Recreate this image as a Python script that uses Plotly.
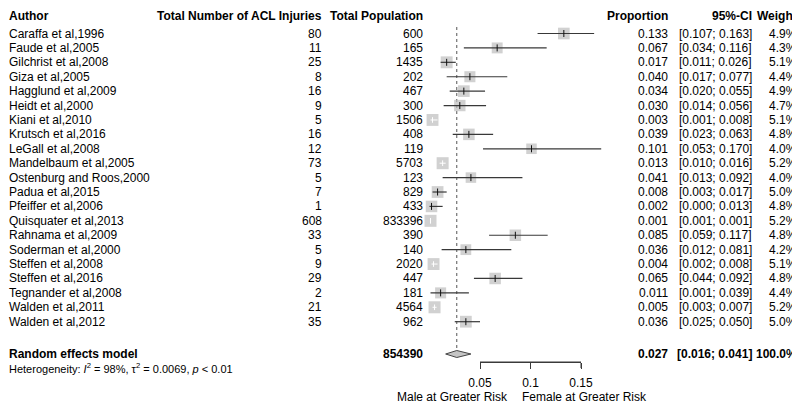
import plotly.graph_objects as go
import math

# ---------------- data ----------------
authors = ["Caraffa et al,1996", "Faude et al,2005", "Gilchrist et al,2008", "Giza et al,2005",
           "Hagglund et al,2009", "Heidt et al,2000", "Kiani et al,2010", "Krutsch et al,2016",
           "LeGall et al,2008", "Mandelbaum et al,2005", "Ostenburg and Roos,2000", "Padua et al,2015",
           "Pfeiffer et al,2006", "Quisquater et al,2013", "Rahnama et al,2009", "Soderman et al,2000",
           "Steffen et al,2008", "Steffen et al,2016", "Tegnander et al,2008", "Walden et al,2011",
           "Walden et al,2012"]
injuries = [80, 11, 25, 8, 16, 9, 5, 16, 12, 73, 5, 7, 1, 608, 33, 5, 9, 29, 2, 21, 35]
population = [600, 165, 1435, 202, 467, 300, 1506, 408, 119, 5703, 123, 829, 433, 833396,
              390, 140, 2020, 447, 181, 4564, 962]
proportion = [0.133, 0.067, 0.017, 0.040, 0.034, 0.030, 0.003, 0.039, 0.101, 0.013, 0.041,
              0.008, 0.002, 0.001, 0.085, 0.036, 0.004, 0.065, 0.011, 0.005, 0.036]
ci_low = [0.107, 0.034, 0.011, 0.017, 0.020, 0.014, 0.001, 0.023, 0.053, 0.010, 0.013,
          0.003, 0.000, 0.001, 0.059, 0.012, 0.002, 0.044, 0.001, 0.003, 0.025]
ci_high = [0.163, 0.116, 0.026, 0.077, 0.055, 0.056, 0.008, 0.063, 0.170, 0.016, 0.092,
           0.017, 0.013, 0.001, 0.117, 0.081, 0.008, 0.092, 0.039, 0.007, 0.050]
weight = [4.9, 4.3, 5.1, 4.4, 4.9, 4.7, 5.1, 4.8, 4.0, 5.2, 4.0, 5.0, 4.8, 5.2, 4.8, 4.2,
          5.1, 4.8, 4.4, 5.2, 5.0]
total_population = 854390
re_label = "Random effects model"
re_est, re_low, re_high, re_weight = 0.027, 0.016, 0.041, 100.0
heterogeneity = "Heterogeneity: <i>I</i><sup>2</sup> = 98%, τ<sup>2</sup> = 0.0069, <i>p</i> < 0.01"
tick_values = [0.05, 0.1, 0.15]
tick_labels = ["0.05", "0.1", "0.15"]
label_left = "Male at Greater Risk"
label_right = "Female at Greater Risk"
headers = ["Author", "Total Number of ACL Injuries", "Total Population", "Proportion", "95%-CI", "Weight"]

# ---------------- layout geometry (page pixels) ----------------
W, H = 800, 403
PAGE_OFF = 8                                  # default page margin around the figure
X0_PX, PX_PER_UNIT = 429.5, 1010.0            # page pixel of proportion 0, pixels per unit
def xpx(v):
    return X0_PX + v * PX_PER_UNIT
def xpaper(px):
    return (px - PAGE_OFF) / W

ROW0, ROWSTEP = 33.5, 14.41
n = len(authors)
row_y = [ROW0 + i * ROWSTEP for i in range(n)]
re_y = 354.0
het_y = 368.0
header_y = 15.5
axis_y = 362.0
tick_len = 6.0
risk_y = 397.0

COL_AUTHOR = PAGE_OFF + 0.5
COL_INJ = 322
COL_POP = 423
COL_PROP = 668
COL_CI = 752
COL_W = 797

FONT = "Liberation Sans, Arial, sans-serif"
BOX_COLOR = "#bdbdbd"
LINE_COLOR = "#383838"
AXIS_COLOR = "#3a3a3a"
MAX_BOX = 12.0

fig = go.Figure()

# reference (pooled) dotted line
fig.add_trace(go.Scatter(x=[re_est, re_est], y=[27, re_y - 4], mode="lines",
                         line=dict(color="#555555", width=1, dash="dot"),
                         hoverinfo="skip", showlegend=False))

# boxes
sizes = [MAX_BOX * math.sqrt(w / max(weight)) for w in weight]
fig.add_trace(go.Scatter(x=proportion, y=row_y, mode="markers",
                         marker=dict(symbol="square", size=sizes, color=BOX_COLOR,
                                     line=dict(width=0)),
                         hoverinfo="skip", showlegend=False))

# CI lines
out_x, out_y, in_x, in_y = [], [], [], []
tick_out_x, tick_out_y, tick_in_x, tick_in_y = [], [], [], []
for p, lo, hi, y, s in zip(proportion, ci_low, ci_high, row_y, sizes):
    inside = (xpx(hi) - xpx(lo)) < s
    if inside:
        in_x += [lo, hi, None]; in_y += [y, y, None]
        tick_in_x.append(p); tick_in_y.append(y)
    else:
        out_x += [lo, hi, None]; out_y += [y, y, None]
        tick_out_x.append(p); tick_out_y.append(y)

fig.add_trace(go.Scatter(x=out_x, y=out_y, mode="lines",
                         line=dict(color=LINE_COLOR, width=1.2),
                         hoverinfo="skip", showlegend=False))
fig.add_trace(go.Scatter(x=in_x, y=in_y, mode="lines",
                         line=dict(color="white", width=1),
                         hoverinfo="skip", showlegend=False))
fig.add_trace(go.Scatter(x=tick_out_x, y=tick_out_y, mode="markers",
                         marker=dict(symbol="line-ns-open", size=5, color="#111111",
                                     line=dict(width=1)),
                         hoverinfo="skip", showlegend=False))
fig.add_trace(go.Scatter(x=tick_in_x, y=tick_in_y, mode="markers",
                         marker=dict(symbol="line-ns-open", size=4, color="white",
                                     line=dict(width=1)),
                         hoverinfo="skip", showlegend=False))

# diamond for the pooled estimate
half_h = 3.5
fig.add_trace(go.Scatter(x=[re_low, re_est, re_high, re_est, re_low],
                         y=[re_y, re_y - half_h, re_y, re_y + half_h, re_y],
                         mode="lines", fill="toself", fillcolor="#c4c4c4",
                         line=dict(color="#444444", width=1),
                         hoverinfo="skip", showlegend=False))

# x axis bracket (line + downward ticks) drawn on the tick axis scale
bx, by = [tick_values[0], tick_values[-1], None], [axis_y, axis_y, None]
for t in tick_values:
    bx += [t, t, None]
    by += [axis_y, axis_y + tick_len, None]
fig.add_trace(go.Scatter(x=bx, y=by, xaxis="x2", yaxis="y", mode="lines",
                         line=dict(color=AXIS_COLOR, width=1),
                         hoverinfo="skip", showlegend=False))

# ---------------- text ----------------
ann = []
def txt(px, py, text, anchor, bold=False, size=12):
    if bold:
        text = "<b>" + text + "</b>"
    ann.append(dict(x=xpaper(px), y=py, xref="paper", yref="y", text=text, showarrow=False,
                    xanchor=anchor, yanchor="middle", font=dict(family=FONT, size=size, color="black"),
                    borderpad=0, borderwidth=0))

txt(COL_AUTHOR, header_y, headers[0], "left", True)
txt(COL_INJ, header_y, headers[1], "right", True)
txt(COL_POP, header_y, headers[2], "right", True)
txt(COL_PROP, header_y, headers[3], "right", True)
txt(COL_CI, header_y, headers[4], "right", True)
txt(COL_W, header_y, headers[5], "right", True)

for i in range(n):
    y = row_y[i]
    txt(COL_AUTHOR, y, authors[i], "left")
    txt(COL_INJ, y, str(injuries[i]), "right")
    txt(COL_POP, y, str(population[i]), "right")
    txt(COL_PROP, y, f"{proportion[i]:.3f}", "right")
    txt(COL_CI, y, f"[{ci_low[i]:.3f}; {ci_high[i]:.3f}]", "right")
    txt(COL_W, y, f"{weight[i]:.1f}%", "right")

txt(COL_AUTHOR, re_y, re_label, "left", True)
txt(COL_POP, re_y, str(total_population), "right", True)
txt(COL_PROP, re_y, f"{re_est:.3f}", "right", True)
txt(COL_CI, re_y, f"[{re_low:.3f}; {re_high:.3f}]", "right", True)
txt(COL_W, re_y, f"{re_weight:.1f}%", "right", True)
txt(COL_AUTHOR, het_y, heterogeneity, "left", False, 11)

txt(508, risk_y, label_left, "right")
txt(522, risk_y, label_right, "left")

fig.update_layout(
    width=W, height=H, autosize=False,
    margin=dict(l=0, r=0, t=0, b=0, pad=0, autoexpand=False),
    paper_bgcolor="white", plot_bgcolor="rgba(0,0,0,0)",
    annotations=ann,
    font=dict(family=FONT, size=12, color="black"),
    xaxis=dict(domain=[0, 1],
               range=[(PAGE_OFF - X0_PX) / PX_PER_UNIT, (PAGE_OFF + W - X0_PX) / PX_PER_UNIT],
               visible=False, fixedrange=True),
    yaxis=dict(domain=[0, 1], range=[PAGE_OFF + H, PAGE_OFF], visible=False, fixedrange=True),
    xaxis2=dict(domain=[xpaper(xpx(tick_values[0])), xpaper(xpx(tick_values[-1]))],
                range=[tick_values[0], tick_values[-1]],
                anchor="free", position=1 - (axis_y - PAGE_OFF) / H, side="bottom",
                tickvals=tick_values, ticktext=tick_labels,
                ticks="outside", ticklen=6, tickwidth=1, tickcolor=AXIS_COLOR,
                ticklabelstandoff=4,
                showline=True, linecolor=AXIS_COLOR, linewidth=1,
                showgrid=False, zeroline=False, fixedrange=True,
                tickfont=dict(family=FONT, size=12, color="black")),
    showlegend=False,
)

fig.write_html("out.html")
